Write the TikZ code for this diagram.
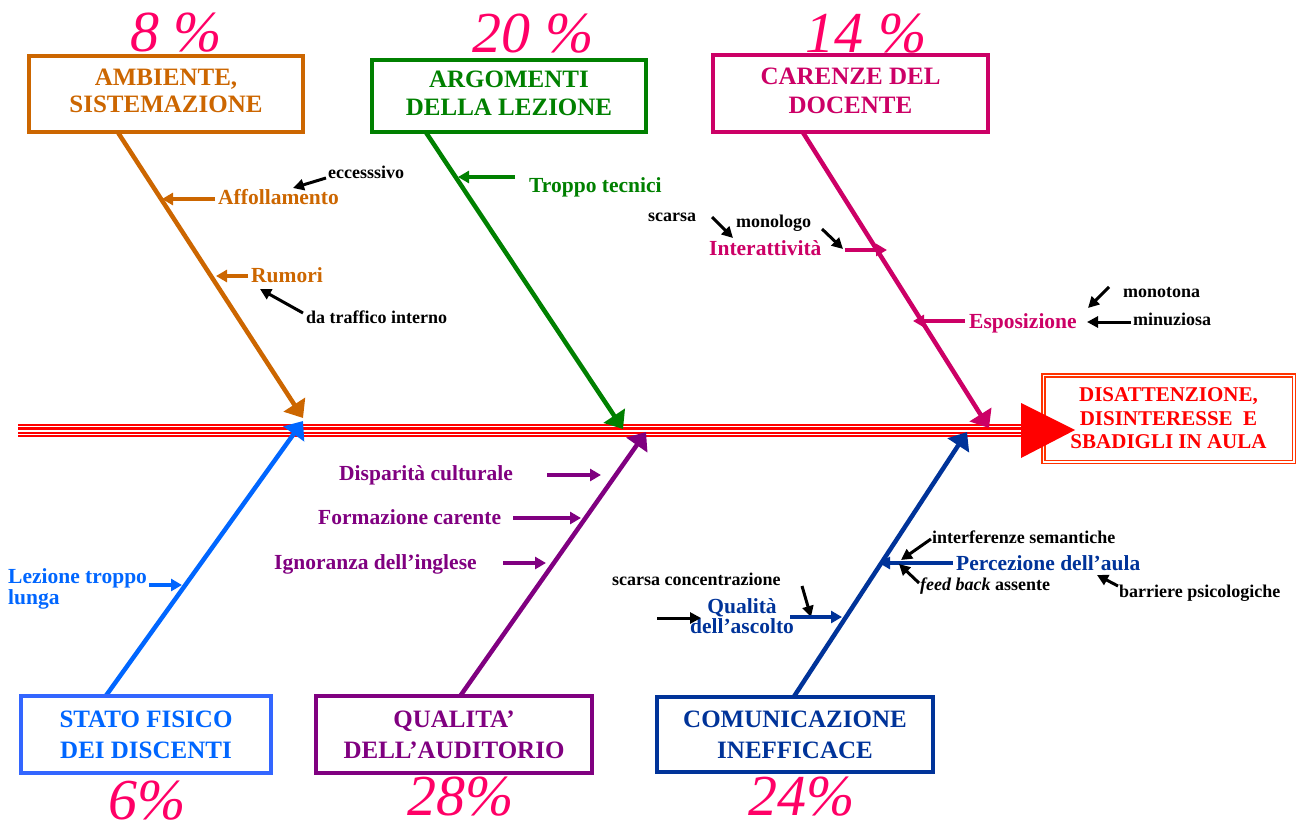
\documentclass[tikz,border=0pt]{standalone}
\usepackage{fontspec}
\setmainfont{Liberation Serif}
\usetikzlibrary{arrows.meta}
\definecolor{corange}{HTML}{CC6600}
\definecolor{cgreen}{HTML}{008000}
\definecolor{cpink}{HTML}{CC0066}
\definecolor{cperc}{HTML}{FF0066}
\definecolor{clblue}{HTML}{0066FF}
\definecolor{clbluebox}{HTML}{3366FF}
\definecolor{cpurple}{HTML}{800080}
\definecolor{cdblue}{HTML}{003399}
\definecolor{ceffect}{HTML}{FF3300}
\definecolor{cred}{HTML}{FF0000}
\newcommand{\lowstrut}{\rule[-6pt]{0pt}{6pt}}
\begin{document}
\begin{tikzpicture}[x=1pt,y=-1pt,
  box/.style={draw, fill=white, line width=4pt, inner sep=0pt, align=center},
  boxfont/.style={font=\bfseries\fontsize{25}{#1}\selectfont},
  perc/.style={text=cperc, font=\itshape\fontsize{58}{58}\selectfont, anchor=base, inner sep=0pt},
  bone/.style={line width=4.5pt, -{Triangle[length=16pt,width=25pt]}},
  sarr/.style={line width=3.5pt, -{Triangle[length=11pt,width=12pt]}},
  karr/.style={line width=3pt, black, -{Triangle[length=11pt,width=11pt]}},
  slab/.style={font=\bfseries\fontsize{21.5}{21.5}\selectfont, anchor=base west, inner sep=0pt},
  klab/.style={font=\bfseries\fontsize{18}{18}\selectfont, anchor=base west, inner sep=0pt, text=black},
]
\useasboundingbox (0,0) rectangle (1297,826);

% ---- coordinates ----
\foreach \n/\x/\y in {sp0/18/430.5, sp1/1030/430.5,
  tA/303/418, tB/623/429, tC/989/428, tD/303/421, tE/646/432, tF/967/432,
  a1/215/199, a2/162/199, a3/326/178, a4/293/188,
  a5/248/276, a6/216/276, a7/303/313, a8/260/289,
  b1/515/177, b2/458/177,
  c1/712/217, c2/733/238, c3/822/229, c4/843/249, c5/845/250, c6/887/250,
  c7/965/321, c8/913/321, c9/1109/287, c10/1088/308, c11/1131/322, c12/1087/322,
  d1/547/475, d2/601/475, d3/513/518, d4/581/518, d5/503/563, d6/546/563,
  e1/149/585, e2/182/585,
  f1/953/563, f2/879/563, f3/931/539, f4/901/560, f5/919/583, f6/899/564,
  f7/1118/586, f8/1097/575, f9/802/586, f10/811/617, f11/790/617, f12/842/617,
  f13/657/618, f14/701/618}
  \coordinate (\n) at (\x,\y);

% ---- percentages ----
\node[perc] (p8)  at (176,52)  {8 \%};
\node[perc] (p20) at (533,53)  {20 \%};
\node[perc] (p14) at (866,53)  {14 \%};
\node[perc] (p6)  at (147,819) {6\%};
\node[perc] (p28) at (461,815) {28\%};
\node[perc] (p24) at (802,815) {24\%};

% ---- spine (striped red band) ----
\draw[cred, line width=12.4pt] (sp0) -- (sp1);
\draw[white, line width=1.1pt] ([yshift=4.2pt]sp0) -- ([yshift=4.2pt]sp1);
\draw[white, line width=1.5pt] ([yshift=-0.3pt]sp0) -- ([yshift=-0.3pt]sp1);
\draw[white, line width=1.1pt] ([yshift=-4.3pt]sp0) -- ([yshift=-4.3pt]sp1);

% ---- boxes (nodes placed first for anchors) ----
\node[box, draw=corange, text=corange, boxfont=27, minimum width=274pt, minimum height=76pt] (amb) at (166,94) {AMBIENTE,\\SISTEMAZIONE\lowstrut};
\node[box, draw=cgreen, text=cgreen, boxfont=28, minimum width=274pt, minimum height=72pt] (arg) at (509,96) {ARGOMENTI\\DELLA LEZIONE\lowstrut};
\node[box, draw=cpink, text=cpink, boxfont=29, minimum width=275pt, minimum height=77pt] (car) at (850.5,93.5) {CARENZE DEL\\DOCENTE\lowstrut};
\node[box, draw=clbluebox, text=clblue, boxfont=31, minimum width=250pt, minimum height=77pt] (sta) at (146,734.5) {STATO FISICO\\DEI DISCENTI};
\node[box, draw=cpurple, text=cpurple, boxfont=31, minimum width=276pt, minimum height=77pt] (qual) at (454,734.5) {QUALITA’\\DELL’AUDITORIO};
\node[box, draw=cdblue, text=cdblue, boxfont=31, minimum width=276pt, minimum height=75pt] (com) at (795,734.5) {COMUNICAZIONE\\INEFFICACE};

% ---- bones ----
\draw[bone, corange] ([shift={(90pt,3pt)}]amb.south west) -- (tA);
\draw[bone, cgreen] ([shift={(55pt,3pt)}]arg.south west) -- (tB);
\draw[bone, cpink] ([shift={(91pt,3pt)}]car.south west) -- (tC);
\draw[bone, clblue] ([shift={(86pt,-3pt)}]sta.north west) -- (tD);
\draw[bone, cpurple] ([shift={(145.5pt,-3pt)}]qual.north west) -- (tE);
\draw[bone, cdblue] ([shift={(138pt,-3pt)}]com.north west) -- (tF);

% redraw box borders over bone starts
\node[box, draw=corange, text=corange, boxfont=27, minimum width=274pt, minimum height=76pt] at (amb) {AMBIENTE,\\SISTEMAZIONE\lowstrut};
\node[box, draw=cgreen, text=cgreen, boxfont=28, minimum width=274pt, minimum height=72pt] at (arg) {ARGOMENTI\\DELLA LEZIONE\lowstrut};
\node[box, draw=cpink, text=cpink, boxfont=29, minimum width=275pt, minimum height=77pt] at (car) {CARENZE DEL\\DOCENTE\lowstrut};
\node[box, draw=clbluebox, text=clblue, boxfont=31, minimum width=250pt, minimum height=77pt] at (sta) {STATO FISICO\\DEI DISCENTI};
\node[box, draw=cpurple, text=cpurple, boxfont=31, minimum width=276pt, minimum height=77pt] at (qual) {QUALITA’\\DELL’AUDITORIO};
\node[box, draw=cdblue, text=cdblue, boxfont=31, minimum width=276pt, minimum height=75pt] at (com) {COMUNICAZIONE\\INEFFICACE};

% ---- effect ----
\node[draw=ceffect, line width=1.5pt, double, double distance=1.5pt, minimum width=250.5pt, minimum height=86.5pt, inner sep=0pt, align=center, text=cred, font=\bfseries\fontsize{21}{23.5}\selectfont] (eff) at (1168.5,418.5) {DISATTENZIONE,\\DISINTERESSE~~E\\SBADIGLI IN AULA};
\fill[cred] (1021,403) -- (1075,430) -- (1021,458) -- cycle;

% ---- orange causes ----
\node[slab, text=corange] (aff) at (218,205) {Affollamento};
\draw[sarr, corange] (a1) -- (a2);
\node[klab] (ecc) at (328,179) {eccesssivo};
\draw[karr] (a3) -- (a4);
\node[slab, text=corange] (rum) at (251,282) {Rumori};
\draw[sarr, corange] (a5) -- (a6);
\node[klab] (daf) at (306,323) {da traffico interno};
\draw[karr] (a7) -- (a8);

% ---- green ----
\node[slab, text=cgreen] (tro) at (529,193) {Troppo tecnici};
\draw[sarr, cgreen] (b1) -- (b2);

% ---- pink ----
\node[klab] (sca) at (648,222) {scarsa};
\draw[karr] (c1) -- (c2);
\node[klab] (mon) at (736,228) {monologo};
\draw[karr] (c3) -- (c4);
\node[slab, text=cpink] (int) at (709,255) {Interattività};
\draw[sarr, cpink] (c5) -- (c6);
\node[slab, text=cpink] (esp) at (969,328) {Esposizione};
\draw[sarr, cpink] (c7) -- (c8);
\node[klab] (mnt) at (1123,297) {monotona};
\draw[karr] (c9) -- (c10);
\node[klab] (min) at (1133,325) {minuziosa};
\draw[karr] (c11) -- (c12);

% ---- purple ----
\node[slab, text=cpurple] (dis) at (339,480) {Disparità culturale};
\draw[sarr, cpurple] (d1) -- (d2);
\node[slab, text=cpurple] (for) at (318,524) {Formazione carente};
\draw[sarr, cpurple] (d3) -- (d4);
\node[slab, text=cpurple] (ign) at (274,569) {Ignoranza dell’inglese};
\draw[sarr, cpurple] (d5) -- (d6);

% ---- light blue ----
\node[slab, text=clblue, anchor=north west, align=left, font=\bfseries\fontsize{21.5}{19}\selectfont] (lez) at (8,568.5) {Lezione troppo\\lunga};
\draw[sarr, clblue] (e1) -- (e2);

% ---- dark blue ----
\node[slab, text=cdblue] (per) at (956,570) {Percezione dell’aula};
\draw[sarr, cdblue] (f1) -- (f2);
\node[klab] (inf) at (932,543) {interferenze semantiche};
\draw[karr] (f3) -- (f4);
\node[klab] (fee) at (920,590) {\textit{feed back} assente};
\draw[karr] (f5) -- (f6);
\node[klab] (bar) at (1119,597) {barriere psicologiche};
\draw[karr] (f7) -- (f8);
\node[klab] (scc) at (612,585) {scarsa concentrazione};
\draw[karr] (f9) -- (f10);
\node[slab, text=cdblue, anchor=north, align=center, font=\bfseries\fontsize{21.5}{20}\selectfont] (qua) at (742,598) {Qualità\\dell’ascolto};
\draw[sarr, cdblue] (f11) -- (f12);
\draw[karr] (f13) -- (f14);
\end{tikzpicture}
\end{document}
